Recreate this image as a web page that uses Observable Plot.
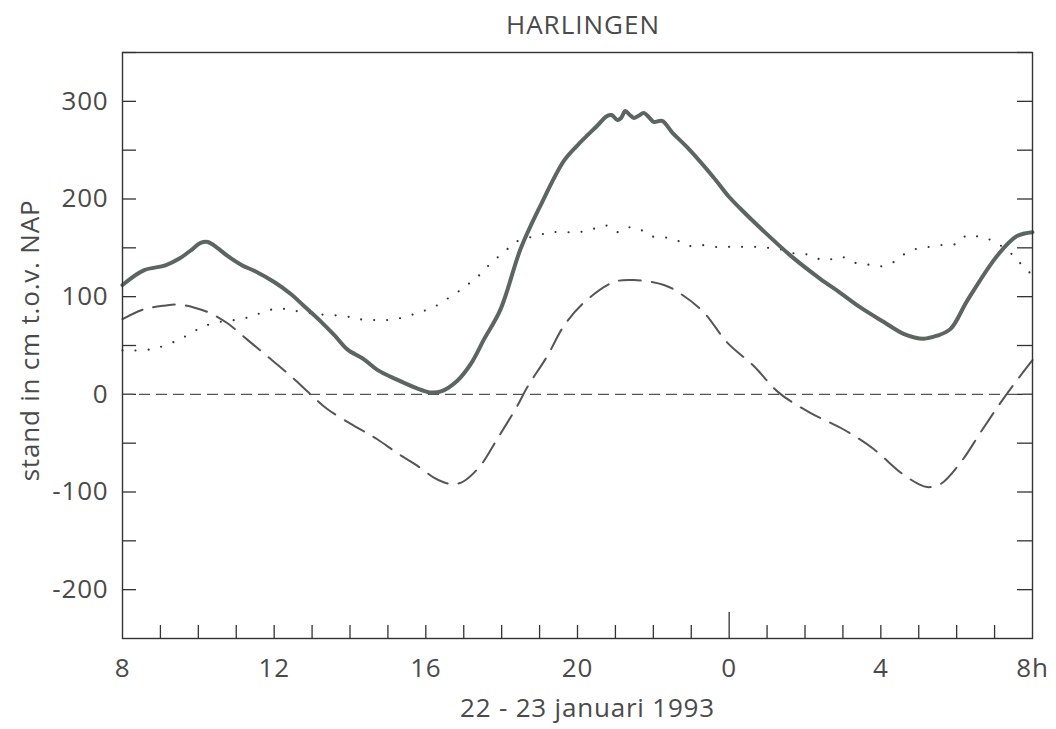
<!DOCTYPE html>
<html>
<head>
<meta charset="utf-8">
<script src="https://cdn.jsdelivr.net/npm/d3@7"></script>
<script src="https://cdn.jsdelivr.net/npm/@observablehq/plot@0.6"></script>
<style>
  html, body { margin: 0; padding: 0; background: #fff; }
  #wrap { width: 1056px; height: 729px; position: relative; font-family: "Open Sans", sans-serif; color: #4a4a4a; }
  #title { height: 40px; width: 910px; margin-left: 128px; text-align: center; font-size: 26px; line-height: 48px; letter-spacing: 1px; }
  #chart svg text { letter-spacing: 0.8px; }
</style>
</head>
<body>
<div id="wrap">
  <div id="title">HARLINGEN</div>
  <div id="chart"></div>
</div>
<script>
// Hours run from 8 (22 Jan 08:00) to 32 (23 Jan 08:00)
const obsHour  = [8.0, 8.56, 9.13, 9.5, 9.79, 10.06, 10.25, 10.5, 10.76, 11.16, 11.5, 12.0, 12.43, 12.8, 13.22, 13.6, 13.93, 14.36, 14.72, 15.24, 15.77, 16.1, 16.4, 16.83, 17.2, 17.53, 17.97, 18.5, 19.02, 19.64, 20.0, 20.52, 20.78, 20.9, 21.05, 21.15, 21.26, 21.38, 21.49, 21.6, 21.75, 21.88, 22.01, 22.23, 22.5, 22.89, 23.59, 24.0, 24.3, 24.56, 24.83, 25.62, 26.41, 26.93, 27.46, 28.08, 28.6, 29.13, 29.48, 29.84, 30.28, 31.07, 31.59, 32.0];
const obsLevel = [112, 127, 132, 139, 147, 155, 156, 150, 142, 132, 126, 115, 103, 90, 75, 60, 46, 36, 25, 15, 6, 2, 3, 14, 32, 56, 87, 149, 193, 239, 255, 275, 285, 286, 281, 283, 290, 286, 283, 285, 288, 284, 279, 280, 268, 253, 222, 202, 190, 180, 170, 142, 118, 104, 89, 74, 62, 57, 60, 67, 96, 142, 162, 166];

const astroHour  = [8.0, 8.56, 9.13, 9.44, 9.88, 10.32, 10.76, 11.29, 11.82, 12.43, 12.96, 13.4, 14.1, 14.72, 15.24, 15.77, 16.2, 16.47, 16.74, 17.0, 17.44, 17.88, 18.41, 18.67, 19.2, 19.64, 20.17, 20.96, 21.49, 22.28, 22.72, 23.33, 23.95, 24.65, 25.3, 26.14, 27.02, 27.81, 28.52, 29.0, 29.22, 29.57, 30.1, 30.63, 31.15, 31.68, 32.0];
const astroLevel = [77, 87, 91, 92, 89, 83, 73, 56, 39, 19, 0, -15, -32, -46, -60, -73, -85, -90, -92, -89, -73, -46, -12, 7, 39, 70, 94, 115, 117, 112, 103, 84, 53, 29, 2, -19, -36, -56, -80, -92, -95, -92, -70, -39, -9, 19, 35];

const surgeHour  = [8.0, 8.74, 9.44, 10.06, 10.41, 11.11, 11.42, 11.77, 12.12, 12.47, 13.18, 13.88, 14.23, 14.63, 14.98, 15.33, 15.68, 15.99, 16.34, 16.65, 16.96, 17.22, 17.5, 17.75, 18.06, 18.32, 18.98, 19.33, 19.68, 20.03, 20.39, 20.74, 21.05, 21.35, 21.64, 21.92, 22.26, 22.61, 22.89, 23.24, 23.59, 23.94, 24.3, 24.69, 25.04, 25.4, 25.75, 26.1, 26.41, 26.65, 26.95, 27.29, 27.64, 27.99, 28.32, 28.6, 28.94, 29.29, 29.64, 29.99, 30.28, 30.61, 30.96, 31.5, 31.75, 32.0];
const surgeLevel = [45, 46, 55, 68, 73, 77, 80, 85, 88, 86, 82, 80, 77, 76, 76, 78, 82, 86, 92, 100, 108, 116, 125, 136, 145, 155, 163, 166, 166, 166, 169, 173, 166, 171, 169, 162, 161, 158, 152, 153, 151, 151, 151, 151, 150, 148, 144, 143, 138, 138, 141, 135, 133, 131, 135, 143, 149, 151, 153, 154, 163, 161, 157, 142, 131, 122];

const xTickValues = [8, 12, 16, 20, 24, 28, 32];
const xTickLabels = ["8", "12", "16", "20", "0", "4", "8h"];
const yTickValues = [-200, -100, 0, 100, 200, 300];
const yTickLabels = ["-200", "-100", "0", "100", "200", "300"];
const hourTicks = d3.range(9, 32).filter(h => h !== 24);
const midnightTick = [24];
const levelTicks = d3.range(-200, 351, 50);

const title = "HARLINGEN";
const xLabel = "22 - 23 januari 1993";
const yLabel = "stand in cm t.o.v. NAP";

const obs = obsHour.map((h, i) => ({h, v: obsLevel[i]}));
const astro = astroHour.map((h, i) => ({h, v: astroLevel[i]}));
const surge = surgeHour.map((h, i) => ({h, v: surgeLevel[i]}));

document.getElementById("title").textContent = title;

const ink = "#4a4a4a";
const frameH = 689 - 12 - 91;
const frameW = 1056 - 122 - 24;

const chart = Plot.plot({
  width: 1056,
  height: 689,
  marginTop: 12,
  marginBottom: 91,
  marginLeft: 122,
  marginRight: 24,
  x: {domain: [8, 32]},
  y: {domain: [-250, 350]},
  style: {fontFamily: "'Open Sans', sans-serif", fontSize: "26px", color: ink, background: "white"},
  marks: [
    Plot.axisX(xTickValues, {tickSize: 0, tickPadding: 20, tickFormat: d => xTickLabels[xTickValues.indexOf(d)], label: null, fill: ink, fontSize: 26}),
    Plot.axisY(yTickValues, {tickSize: 0, tickPadding: 14, tickFormat: d => yTickLabels[yTickValues.indexOf(d)], label: null, fill: ink, fontSize: 26}),
    Plot.tickX(hourTicks, {x: d => d, insetTop: frameH - 13, stroke: "#333", strokeWidth: 1.3}),
    Plot.tickX(midnightTick, {x: d => d, insetTop: frameH - 26, stroke: "#333", strokeWidth: 1.3}),
    Plot.tickY(levelTicks, {y: d => d, insetRight: frameW - 14, stroke: "#333", strokeWidth: 1.3}),
    Plot.tickY(levelTicks, {y: d => d, insetLeft: frameW - 15, stroke: "#333", strokeWidth: 1.3}),
    Plot.ruleY([0], {stroke: "#555", strokeWidth: 1.3, strokeDasharray: "11,6"}),
    Plot.line(astro, {x: "h", y: "v", curve: "catmull-rom", stroke: "#555", strokeWidth: 2, strokeDasharray: "22,11"}),
    Plot.line(surge, {x: "h", y: "v", curve: "catmull-rom", stroke: "#333", strokeWidth: 2.2, strokeDasharray: "0,13", strokeLinecap: "round"}),
    Plot.line(obs, {x: "h", y: "v", curve: "catmull-rom", stroke: "#5d6560", strokeWidth: 4, strokeLinejoin: "round"}),
    Plot.frame({stroke: "#333", strokeWidth: 1.4}),
    Plot.text([xLabel], {frameAnchor: "bottom", dx: 10, dy: 78, fill: ink, fontSize: 26}),
    Plot.text([yLabel], {frameAnchor: "left", dx: -92, dy: -5, rotate: -90, textAnchor: "middle", fill: ink, fontSize: 26})
  ]
});
document.getElementById("chart").appendChild(chart);
</script>
</body>
</html>
